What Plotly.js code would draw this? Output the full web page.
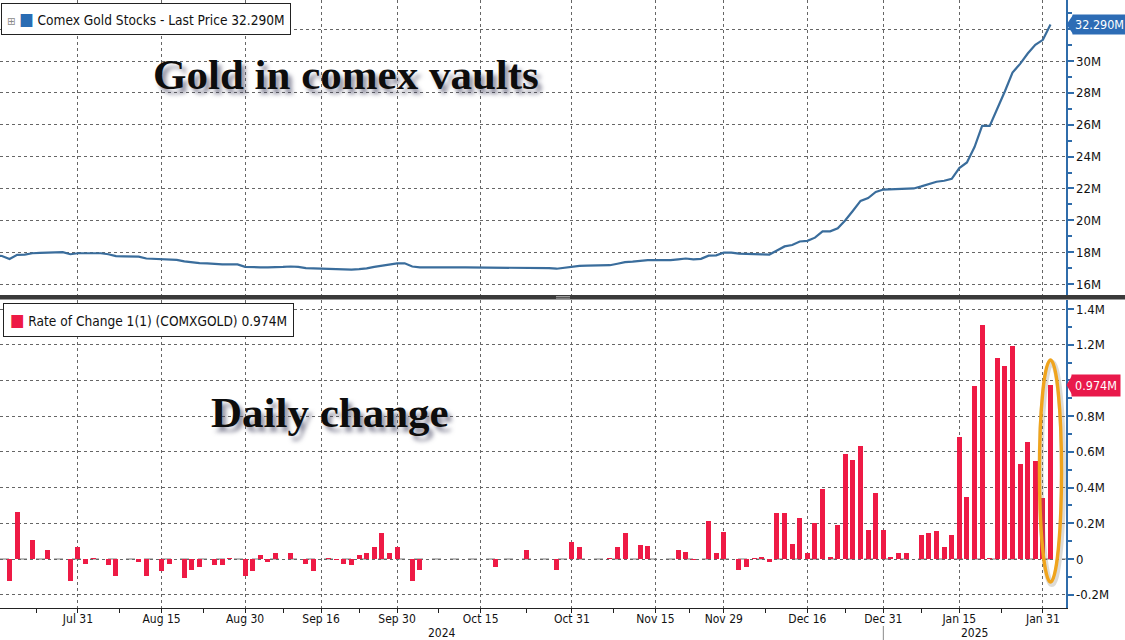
<!DOCTYPE html>
<html><head><meta charset="utf-8">
<script src="https://cdn.plot.ly/plotly-3.0.1.min.js"></script>
<style>html,body{margin:0;padding:0;background:#fff;}#chart{width:1125px;height:640px;}</style>
</head><body><div id="chart"></div>
<script>
// ---------------- data ----------------
const startDate = '2024-07-16';
const endDate = '2025-02-03';
const holidays = ['2024-09-02','2024-11-28','2024-12-25','2025-01-01','2025-01-20'];

const tickDates = ['2024-07-31','2024-08-15','2024-08-30','2024-09-16','2024-09-30','2024-10-15',
  '2024-10-31','2024-11-15','2024-11-29','2024-12-16','2024-12-31','2025-01-15','2025-01-31'];
const tickLabels = ['Jul 31','Aug 15','Aug 30','Sep 16','Sep 30','Oct 15',
  'Oct 31','Nov 15','Nov 29','Dec 16','Dec 31','Jan 15','Jan 31'];
const yearLabels = ['2024','2025'];
const yearBoundary = '2024-12-31';

// Comex gold stocks, millions of oz
const goldStocks = [17.80, 17.76,
  17.57, 17.83, 17.85, 17.93, 17.95, 17.98, 18.00, 18.00, 17.87, 17.93,
  17.93, 17.93, 17.93, 17.87, 17.75, 17.74, 17.74, 17.72, 17.60, 17.58,
  17.54, 17.53, 17.52, 17.42, 17.36, 17.31, 17.30, 17.25, 17.23, 17.23,
  17.23, 17.08, 17.05, 17.05, 17.04, 17.04, 17.07, 17.10, 17.08, 17.00,
  16.98, 16.97, 16.97, 16.96, 16.93, 16.90, 16.93, 16.98, 17.08, 17.15,
  17.20, 17.30, 17.30, 17.10, 17.05, 17.04, 17.04, 17.04, 17.04, 17.04,
  17.04, 17.04, 17.04, 17.04, 17.04, 17.04, 17.04, 17.04, 17.04, 17.04,
  17.04, 17.00, 16.96, 17.02, 17.10, 17.14, 17.15, 17.15, 17.15, 17.18,
  17.27, 17.37, 17.40, 17.45, 17.50, 17.50, 17.50, 17.50, 17.55, 17.60,
  17.55, 17.58, 17.78, 17.80, 17.97, 17.97, 17.91, 17.87, 17.87, 17.86,
  17.85, 18.10, 18.36, 18.45, 18.67, 18.71, 18.91, 19.30, 19.31, 19.50,
  20.00, 20.60, 21.22, 21.40, 21.78, 21.93, 21.94, 21.97, 22.00, 22.00,
  22.13, 22.27, 22.42, 22.48, 22.60, 23.28, 23.63, 24.60, 25.93, 25.93,
  27.00, 28.10, 29.28, 29.82, 30.47, 31.02, 31.33, 32.29];

// Rate of change 1(1), millions
const dailyChange = [null, 0,
  -0.125, 0.261, 0, 0.105, 0, 0.052, 0, 0, -0.125, 0.069,
  -0.026, 0.003, 0, -0.032, -0.097, 0, 0, -0.019, -0.097, 0,
  -0.069, -0.026, 0, -0.108, -0.063, -0.047, 0, -0.032, -0.032, 0.007,
  0, -0.093, -0.069, 0.024, -0.015, 0.032, 0, 0.035, 0, -0.026,
  -0.065, 0, 0.007, -0.007, -0.026, -0.032, 0.024, 0.035, 0.069, 0.144,
  0.032, 0.069, 0, -0.125, -0.060, 0, 0, 0, 0, 0,
  0, 0, 0, 0, -0.047, 0, 0, 0, 0.052, 0,
  0, 0, -0.060, 0, 0.093, 0.069, 0, 0, 0, 0.007,
  0.069, 0.147, 0, 0.080, 0.075, 0, 0, 0, 0.052, 0.037,
  -0.007, 0, 0.214, 0.034, 0.152, 0, -0.064, -0.042, 0.007, 0.011,
  -0.015, 0.258, 0.258, 0.086, 0.231, 0.034, 0.202, 0.394, 0.011, 0.190,
  0.590, 0.556, 0.635, 0.164, 0.371, 0.164, 0.011, 0.034, 0.034, 0,
  0.134, 0.145, 0.157, 0.066, 0.134, 0.685, 0.345, 0.967, 1.309, 0.003,
  1.126, 1.079, 1.191, 0.530, 0.653, 0.547, 0.340, 0.974];

// axis ticks (labels hidden under the last-value badges are left blank, as in the reference)
const y1TickVals = [16, 18, 20, 22, 24, 26, 28, 30, 32];
const y1TickText = ['16M', '18M', '20M', '22M', '24M', '26M', '28M', '30M', ''];
const y2TickVals = [-0.2, 0, 0.2, 0.4, 0.6, 0.8, 1.0, 1.2, 1.4];
const y2TickText = ['-0.2M', '0', '0.2M', '0.4M', '0.6M', '0.8M', '', '1.2M', '1.4M'];
const lastPriceText = '32.290M';
const lastChangeText = '0.974M';
const legend1Text = 'Comex Gold Stocks - Last Price 32.290M';
const legend2Text = 'Rate of Change 1(1) (COMXGOLD) 0.974M';
const title1 = 'Gold in comex vaults';
const title2 = 'Daily change';

// ---------------- business-day calendar ----------------
function businessDays(s, e, hol) {
  const out = [];
  const d = new Date(s + 'T00:00:00Z');
  const end = new Date(e + 'T00:00:00Z');
  while (d <= end) {
    const iso = d.toISOString().slice(0, 10);
    const wd = d.getUTCDay();
    if (wd !== 0 && wd !== 6 && hol.indexOf(iso) < 0) out.push(iso);
    d.setUTCDate(d.getUTCDate() + 1);
  }
  return out;
}
const dates = businessDays(startDate, endDate, holidays);
const idx = dates.map((d, i) => i);
const tickVals = tickDates.map(d => dates.indexOf(d));
const minorVals = [tickVals[0] - (tickVals[1] - tickVals[0]) / 2];
for (let k = 0; k < tickVals.length - 1; k++) minorVals.push((tickVals[k] + tickVals[k + 1]) / 2);
const lastIdx = dates.length - 1;
const lastPrice = goldStocks[goldStocks.length - 1];
const lastChange = dailyChange[dailyChange.length - 1];

// ---------------- geometry & style ----------------
const W = 1125, H = 640;
const mL = 0, mR = 59, mT = 0, mB = 32;
const plotW = W - mL - mR, plotH = H - mT - mB;
const pxX = px => (px - mL) / plotW;            // pixel -> paper x
const pxY = py => 1 - (py - mT) / plotH;        // pixel -> paper y
const xRange = [0.74, 141.04];
const yRange1 = [15.31, 33.83];
const yRange2 = [-0.2744, 1.4504];
const dom1 = [pxY(295), 1];
const dom2 = [0, pxY(300)];

const sans = '"DejaVu Sans Condensed", "DejaVu Sans", Verdana, sans-serif';
const serif = '"Liberation Serif", "Times New Roman", serif';
const axisBlue = '#2f6caa';
const lineBlue = '#3a6d9c';
const badgeBlue = '#2d6cb5';
const barRed = '#ee1a45';
const badgeRed = '#e9194b';
const gridCol = '#666';

const unitPx1 = plotH * (dom1[1] - dom1[0]) / (yRange1[1] - yRange1[0]);
const unitPx2 = plotH * (dom2[1] - dom2[0]) / (yRange2[1] - yRange2[0]);

const traces = [
  { type: 'bar', x: idx, y: dailyChange, xaxis: 'x', yaxis: 'y2', width: 0.66,
    marker: { color: barRed, line: { width: 0 } }, hoverinfo: 'skip' },
  { type: 'scatter', mode: 'lines', x: idx, y: goldStocks, xaxis: 'x2', yaxis: 'y',
    line: { color: lineBlue, width: 2.2 }, hoverinfo: 'skip' }
];

const yearIdx = dates.indexOf(yearBoundary);

const layout = {
  width: W, height: H,
  margin: { l: mL, r: mR, t: mT, b: mB, pad: 0 },
  paper_bgcolor: '#fff', plot_bgcolor: '#fff',
  showlegend: false, bargap: 0,
  font: { family: sans, size: 13, color: '#111' },
  xaxis: {
    type: 'linear', domain: [0, 1], anchor: 'y2', range: xRange,
    tickmode: 'array', tickvals: tickVals, ticktext: tickLabels,
    ticks: 'outside', ticklen: 4, tickcolor: '#222', tickwidth: 1,
    ticklabelstandoff: -4,
    tickfont: { size: 12, color: '#111' },
    showline: true, linecolor: '#222', linewidth: 1,
    showgrid: true, gridcolor: gridCol, griddash: 'dot', gridwidth: 1, zeroline: false,
    minor: { tickmode: 'array', tickvals: minorVals, ticks: 'outside', ticklen: 4, tickcolor: '#222', showgrid: false },
    fixedrange: true
  },
  xaxis2: {
    type: 'linear', domain: [0, 1], anchor: 'y', matches: 'x', range: xRange,
    tickmode: 'array', tickvals: tickVals, showticklabels: false, ticks: '',
    showgrid: true, gridcolor: gridCol, griddash: 'dot', gridwidth: 1,
    zeroline: false, showline: false, fixedrange: true
  },
  yaxis: {
    domain: dom1, anchor: 'x2', side: 'right', range: yRange1,
    tickmode: 'array', tickvals: y1TickVals, ticktext: y1TickText,
    ticks: 'outside', ticklen: 6, tickwidth: 2, tickcolor: axisBlue,
    tickfont: { size: 13, color: '#111' },
    showline: true, linecolor: axisBlue, linewidth: 1.5,
    showgrid: true, gridcolor: gridCol, griddash: 'dot', gridwidth: 1, zeroline: false,
    minor: { tickmode: 'linear', tick0: 15, dtick: 1, ticks: 'outside', ticklen: 4, tickcolor: axisBlue, showgrid: false },
    fixedrange: true
  },
  yaxis2: {
    domain: dom2, anchor: 'x', side: 'right', range: yRange2,
    tickmode: 'array', tickvals: y2TickVals, ticktext: y2TickText,
    ticks: 'outside', ticklen: 6, tickwidth: 2, tickcolor: axisBlue,
    tickfont: { size: 13, color: '#111' },
    showline: true, linecolor: axisBlue, linewidth: 1.5,
    showgrid: true, gridcolor: gridCol, griddash: 'dot', gridwidth: 1, zeroline: false,
    minor: { tickmode: 'linear', tick0: -0.3, dtick: 0.1, ticks: 'outside', ticklen: 4, tickcolor: axisBlue, showgrid: false },
    fixedrange: true
  },
  shapes: [
    // zero line of the lower panel
    { type: 'line', xref: 'paper', x0: 0, x1: 1, yref: 'y2', y0: 0, y1: 0,
      line: { color: '#7a7a7a', width: 1, dash: 'dash' }, layer: 'below' },
    // panel separator
    { type: 'rect', xref: 'paper', yref: 'paper', x0: pxX(0), x1: pxX(W), y0: pxY(299.5), y1: pxY(295),
      fillcolor: '#3a3a3a', line: { width: 0 } },
    { type: 'line', xref: 'paper', yref: 'paper', x0: pxX(556), x1: pxX(570), y0: pxY(296.5), y1: pxY(296.5),
      line: { color: '#9a9a9a', width: 1 } },
    { type: 'line', xref: 'paper', yref: 'paper', x0: pxX(556), x1: pxX(570), y0: pxY(298.2), y1: pxY(298.2),
      line: { color: '#9a9a9a', width: 1 } },
    // year boundary tick
    { type: 'line', xref: 'x', x0: yearIdx, x1: yearIdx, yref: 'paper', y0: pxY(640), y1: pxY(626),
      line: { color: '#8a8a8a', width: 1 } },
    // highlight ellipse (shadow + ring)
    { type: 'circle', xref: 'x', yref: 'y2', x0: lastIdx - 1.3, x1: lastIdx + 1.65, y0: -0.14, y1: 1.10,
      line: { color: 'rgba(120,110,90,0.25)', width: 6 } },
    { type: 'circle', xref: 'x', yref: 'y2', x0: lastIdx - 1.45, x1: lastIdx + 1.45, y0: -0.129, y1: 1.114,
      line: { color: '#f0a41c', width: 3.4 } },
    // last-value badge pointers
    { type: 'path', xref: 'paper', yref: 'y',
      path: `M ${pxX(1066.5)},${lastPrice} L ${pxX(1073)},${lastPrice + 9.5 / unitPx1} L ${pxX(1073)},${lastPrice - 9.5 / unitPx1} Z`,
      fillcolor: badgeBlue, line: { width: 0 } },
    { type: 'path', xref: 'paper', yref: 'y2',
      path: `M ${pxX(1066.5)},${lastChange} L ${pxX(1072)},${lastChange + 9.5 / unitPx2} L ${pxX(1072)},${lastChange - 9.5 / unitPx2} Z`,
      fillcolor: badgeRed, line: { width: 0 } }
  ],
  annotations: [
    { xref: 'paper', yref: 'y', x: pxX(1072), y: lastPrice, xanchor: 'left', yanchor: 'middle',
      text: lastPriceText, showarrow: false, bgcolor: badgeBlue, borderpad: 2,
      font: { family: sans, size: 12.5, color: '#fff' } },
    { xref: 'paper', yref: 'y2', x: pxX(1071), y: lastChange, xanchor: 'left', yanchor: 'middle',
      text: lastChangeText, showarrow: false, bgcolor: badgeRed, borderpad: 3,
      font: { family: sans, size: 12.5, color: '#fff' } },
    // legend boxes
    { xref: 'paper', yref: 'paper', x: pxX(1), y: pxY(3), xanchor: 'left', yanchor: 'top',
      text: '<span style="color:#8a8a8a;font-size:11px">⊞</span> <span style="color:#2a6cb3;font-size:17px">■</span> ' + legend1Text,
      showarrow: false, align: 'left', bgcolor: '#fff', bordercolor: '#222', borderwidth: 1, borderpad: 5,
      font: { family: sans, size: 13.6, color: '#111' } },
    { xref: 'paper', yref: 'paper', x: pxX(3), y: pxY(303), xanchor: 'left', yanchor: 'top',
      text: '<span style="color:' + barRed + ';font-size:17px">■</span> ' + legend2Text,
      showarrow: false, align: 'left', bgcolor: '#fff', bordercolor: '#222', borderwidth: 1, borderpad: 6,
      font: { family: sans, size: 13.6, color: '#111' } },
    // big overlay titles
    { xref: 'paper', yref: 'paper', x: pxX(346), y: pxY(75), xanchor: 'center', yanchor: 'middle',
      text: '<b>' + title1 + '</b>', showarrow: false,
      font: { family: serif, size: 43, color: '#0d0d0d', shadow: '4px 5px 4px rgba(60,60,90,0.55)' } },
    { xref: 'paper', yref: 'paper', x: pxX(330), y: pxY(412), xanchor: 'center', yanchor: 'middle',
      text: '<b>' + title2 + '</b>', showarrow: false,
      font: { family: serif, size: 43, color: '#0d0d0d', shadow: '4px 5px 4px rgba(60,60,90,0.55)' } },
    // year labels
    { xref: 'x', yref: 'paper', x: (xRange[0] + yearIdx) / 2, y: pxY(633), xanchor: 'center', yanchor: 'middle',
      text: yearLabels[0], showarrow: false, font: { family: sans, size: 12, color: '#111' } },
    { xref: 'x', yref: 'paper', x: (yearIdx + xRange[1]) / 2, y: pxY(633), xanchor: 'center', yanchor: 'middle',
      text: yearLabels[1], showarrow: false, font: { family: sans, size: 12, color: '#111' } }
  ]
};

Plotly.newPlot('chart', traces, layout, { staticPlot: true, displayModeBar: false });
</script>
</body></html>
